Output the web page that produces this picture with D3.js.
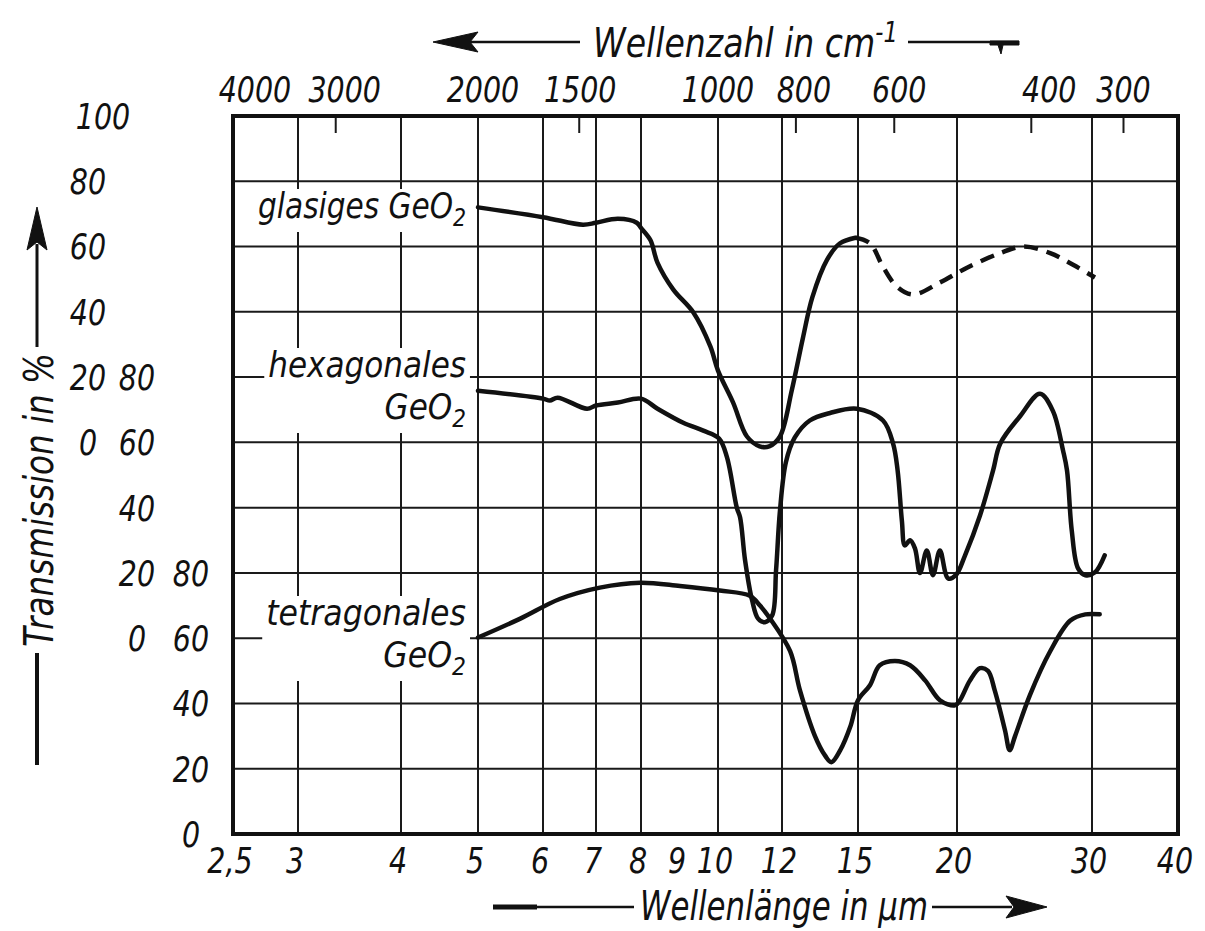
<!DOCTYPE html>
<html>
<head>
<meta charset="utf-8">
<script src="https://cdn.jsdelivr.net/npm/d3@7"></script>
<style>
  body { margin: 0; background: #fff; }
  text { font-family: "DejaVu Sans Condensed", "DejaVu Sans", sans-serif; font-style: italic; fill: #111; }
</style>
</head>
<body>
<svg id="chart" width="1205" height="931"></svg>
<script>
// wavelength axis (µm), non-uniform prism scale
const lambdaTicks = [2.5, 3, 4, 5, 6, 7, 8, 9, 10, 12, 15, 20, 30, 40];
const lambdaLabels = ["2,5", "3", "4", "5", "6", "7", "8", "9", "10", "12", "15", "20", "30", "40"];
const lambdaGrid = [3, 4, 5, 6, 7, 8, 10, 12, 15, 20, 30];
// wavenumber axis (cm-1)
const waveNumbers = [4000, 3000, 2000, 1500, 1000, 800, 600, 400, 300];

const glasTicks = [0, 20, 40, 60, 80, 100];
const hexTicks = [0, 20, 40, 60, 80];
const tetTicks = [0, 20, 40, 60, 80];

// glasiges GeO2 (dashed beyond glasDashFrom)
const glasLambda = [5.0, 6.0, 6.74, 7.0, 7.47, 7.9, 8.0, 8.23, 8.41, 8.82, 9.34, 9.79, 10.0, 10.44, 10.86, 11.26, 11.57, 11.93, 12.35, 12.76, 13.12, 13.7, 14.23, 14.89, 15.53, 16.13, 16.8, 17.6, 19.03, 20.61, 22.77, 24.4, 26.46, 28.34, 30.3];
const glasT = [72, 69, 66.7, 67.3, 68.5, 67.3, 65.7, 62, 55, 46.8, 39.8, 29.4, 22, 12.2, 1.8, -1.2, -1.2, 1.8, 16, 32, 44.5, 56, 61, 62.7, 61, 53.8, 47.7, 45.3, 49, 53.5, 58, 60, 58, 54.4, 50.5];
const glasDashFrom = 14.89;

// hexagonales GeO2
const hexLambda = [5.0, 6.0, 6.12, 6.26, 6.82, 7.0, 7.47, 8.0, 8.41, 9.08, 9.6, 10.03, 10.26, 10.55, 10.65, 10.8, 11.02, 11.21, 11.43, 11.67, 11.8, 11.93, 12.14, 12.46, 13.02, 13.82, 14.95, 16.13, 16.61, 16.83, 17.04, 17.19, 17.45, 17.7, 17.96, 18.32, 18.65, 19.03, 19.49, 19.93, 20.49, 21.43, 22.29, 22.77, 24.17, 25.66, 26.67, 27.5, 27.83, 28.23, 28.77, 29.41, 30.3, 31.3];
const hexT = [75.8, 73.4, 72.8, 73.7, 70.3, 71.3, 72.2, 73.4, 70.3, 66, 63.6, 61.2, 55.4, 40, 37, 24, 11.6, 6, 4.9, 7, 21, 39, 54, 61.5, 66.7, 69, 70.3, 66.7, 59.6, 51.4, 36, 28.4, 30, 27.5, 20, 26.9, 19.3, 26.9, 18.3, 19.3, 25.4, 37.6, 51.4, 59.6, 68, 74.9, 69.7, 57.5, 51.4, 33, 21.4, 19.3, 20.2, 25.4];

// tetragonales GeO2
const tetLambda = [5.0, 5.63, 6.3, 7.08, 7.98, 9.0, 10.05, 10.95, 11.27, 11.6, 12.29, 12.65, 13.22, 13.62, 13.87, 14.24, 14.67, 15.0, 15.53, 15.98, 16.7, 17.45, 18.24, 19.03, 19.88, 20.18, 20.79, 21.43, 21.95, 22.4, 23.1, 23.43, 23.81, 24.89, 26.46, 28.11, 29.41, 30.78];
const tetT = [60.2, 66, 72, 75.5, 77, 76, 74.6, 73, 70, 66, 56, 44, 30, 24, 22, 25.7, 33, 41, 45.6, 51.7, 53, 51.7, 47, 41, 39.4, 41, 47, 50.8, 50, 44, 31.8, 25.7, 30, 42.5, 56, 65.4, 67.3, 67.3];

const svg = d3.select("#chart");

const plotLeft = 233, plotRight = 1178, plotTop = 116, plotBottom = 834;
const step = (plotBottom - plotTop) / 11;

// prism scale: pixel positions of the printed wavelength ticks
const x = d3.scaleLog()
  .domain(lambdaTicks)
  .range([233, 298, 401, 478, 543, 596, 641, 680, 718, 782, 858, 957, 1092, 1178]);

const yGlas = d3.scaleLinear().domain([0, 100]).range([plotTop + 5 * step, plotTop]);
const yHex = d3.scaleLinear().domain([0, 80]).range([plotTop + 8 * step, plotTop + 4 * step]);
const yTet = d3.scaleLinear().domain([0, 80]).range([plotBottom, plotTop + 7 * step]);

// narrow the italic lettering horizontally around its x anchor
const squeeze = (sel, sx) => sel.attr("transform", function () {
  const x0 = +this.getAttribute("x");
  return `translate(${x0 * (1 - sx)},0) scale(${sx},1)`;
});
const fit = (sel, width) => squeeze(sel, width / sel.node().getBBox().width);

const grid = svg.append("g").attr("stroke", "#1a1a1a").attr("stroke-width", 2);

grid.selectAll("line.h")
  .data(d3.range(1, 11))
  .enter()
  .append("line")
  .attr("x1", plotLeft).attr("x2", plotRight)
  .attr("y1", (d) => plotTop + d * step).attr("y2", (d) => plotTop + d * step);

grid.selectAll("line.v")
  .data(lambdaGrid)
  .enter()
  .append("line")
  .attr("x1", (d) => x(d)).attr("x2", (d) => x(d))
  .attr("y1", plotTop).attr("y2", plotBottom);

// short ticks for wavenumbers
grid.selectAll("line.wn")
  .data(waveNumbers.filter((d) => d !== 4000 && d !== 2000 && d !== 1000))
  .enter()
  .append("line")
  .attr("x1", (d) => x(10000 / d)).attr("x2", (d) => x(10000 / d))
  .attr("y1", plotTop).attr("y2", plotTop + 17);

// frame
svg.append("rect")
  .attr("x", plotLeft).attr("y", plotTop)
  .attr("width", plotRight - plotLeft).attr("height", plotBottom - plotTop)
  .attr("fill", "none").attr("stroke", "#111").attr("stroke-width", 4);

// curves
const lineOf = (yScale) => d3.line()
  .x((d) => x(d[0]))
  .y((d) => yScale(d[1]))
  .curve(d3.curveCatmullRom.alpha(0.5));

const zip = (a, b) => a.map((v, i) => [v, b[i]]);

const glasPts = zip(glasLambda, glasT);
const curves = svg.append("g")
  .attr("fill", "none").attr("stroke", "#111").attr("stroke-width", 4.5)
  .attr("stroke-linejoin", "round").attr("stroke-linecap", "round");

curves.append("path")
  .attr("d", lineOf(yGlas)(glasPts.filter((d) => d[0] <= glasDashFrom)));
curves.append("path")
  .attr("stroke-dasharray", "14 9")
  .attr("stroke-linecap", "butt")
  .attr("d", lineOf(yGlas)(glasPts.filter((d) => d[0] >= glasDashFrom)));
curves.append("path").attr("d", lineOf(yHex)(zip(hexLambda, hexT)));
curves.append("path").attr("d", lineOf(yTet)(zip(tetLambda, tetT)));

// curve labels with white background (one text element per label)
const labels = [
  { lines: ["glasiges GeO"], baselines: [218], width: 208 },
  { lines: ["hexagonales", "GeO"], baselines: [377, 419], width: 198 },
  { lines: ["tetragonales", "GeO"], baselines: [625, 667], width: 200 },
];
labels.forEach((lab) => {
  const g = svg.append("g");
  const t = g.append("text")
    .attr("text-anchor", "end")
    .style("font-size", "36px");
  lab.lines.forEach((s, i) => {
    t.append("tspan").attr("x", 0).attr("y", lab.baselines[i]).text(s);
    if (s.endsWith("GeO")) {
      t.append("tspan").attr("dy", 8).style("font-size", "25px").text("2");
    }
  });
  const b = t.node().getBBox();
  const sx = lab.width / b.width;
  g.attr("transform", `translate(466,0) scale(${sx},1)`);
  g.insert("rect", "text")
    .attr("x", b.x - 4).attr("y", b.y + 4)
    .attr("width", b.width + 8).attr("height", b.height - 4)
    .attr("fill", "#fff");
});

// bottom tick labels
svg.selectAll("text.xl")
  .data(lambdaTicks)
  .enter()
  .append("text")
  .attr("x", (d) => x(d) - 3)
  .attr("y", 873)
  .attr("text-anchor", "middle")
  .style("font-size", "36px")
  .text((d, i) => lambdaLabels[i])
  .call(squeeze, 0.88);

// top tick labels (printed slightly right of their ticks)
const waveLabelShift = [22, 9, 5, 1, 0, 8, 5, 18, 0];
svg.selectAll("text.wl")
  .data(waveNumbers)
  .enter()
  .append("text")
  .attr("x", (d, i) => x(10000 / d) + waveLabelShift[i])
  .attr("y", 102)
  .attr("text-anchor", "middle")
  .style("font-size", "36px")
  .text((d) => d)
  .call(squeeze, 0.88);

// left tick labels, three scales
const yCols = [
  { ticks: glasTicks, scale: yGlas, cx: (d) => (d === 100 ? 103 : 88) },
  { ticks: hexTicks, scale: yHex, cx: () => 137 },
  { ticks: tetTicks, scale: yTet, cx: () => 191 },
];
yCols.forEach((c) => {
  svg.selectAll(null)
    .data(c.ticks)
    .enter()
    .append("text")
    .attr("x", c.cx)
    .attr("y", (d) => c.scale(d))
    .attr("dy", "0.36em")
    .attr("text-anchor", "middle")
    .style("font-size", "36px")
    .text((d) => d)
    .call(squeeze, 0.88);
});

// axis titles with arrows
const deco = svg.append("g").attr("stroke", "#111").attr("fill", "#111");

// top: wavenumber
svg.append("text")
  .attr("x", 593).attr("y", 57)
  .style("font-size", "41px")
  .call((t) => {
    t.append("tspan").text("Wellenzahl in cm");
    t.append("tspan").attr("dy", -15).style("font-size", "28px").text("-1");
  })
  .call(fit, 305);
deco.append("line").attr("x1", 470).attr("x2", 580).attr("y1", 42).attr("y2", 42).attr("stroke-width", 2.5);
deco.append("path").attr("d", "M433,42 L478,32 L470,42 L478,52 Z");
deco.append("line").attr("x1", 908).attr("x2", 1019).attr("y1", 42).attr("y2", 42).attr("stroke-width", 2.5);
deco.append("path").attr("d", "M990,41 L1019,41 L1019,45 L1003,45 L1001,54 L998,45 L990,45 Z");

// bottom: wavelength
svg.append("text")
  .attr("x", 640).attr("y", 920)
  .style("font-size", "40px")
  .text("Wellenlänge in µm")
  .call(fit, 288);
deco.append("line").attr("x1", 493).attr("x2", 537).attr("y1", 907).attr("y2", 907).attr("stroke-width", 5);
deco.append("line").attr("x1", 537).attr("x2", 634).attr("y1", 907).attr("y2", 907).attr("stroke-width", 2.5);
deco.append("line").attr("x1", 932).attr("x2", 1012).attr("y1", 907).attr("y2", 907).attr("stroke-width", 2.5);
deco.append("path").attr("d", "M1047,907 L1006,896 L1014,907 L1006,918 Z");

// left: transmission
const tTitle = svg.append("text")
  .attr("text-anchor", "middle")
  .style("font-size", "40px")
  .text("Transmission in %");
const tw = tTitle.node().getBBox().width;
tTitle.attr("transform", `translate(53,500) rotate(-90) scale(${294 / tw},1)`);
deco.append("line").attr("x1", 37).attr("x2", 37).attr("y1", 244).attr("y2", 347).attr("stroke-width", 3);
deco.append("path").attr("d", "M37,207 L47,250 L37,242 L27,250 Z");
deco.append("line").attr("x1", 37).attr("x2", 37).attr("y1", 653).attr("y2", 765).attr("stroke-width", 4);
</script>
</body>
</html>
